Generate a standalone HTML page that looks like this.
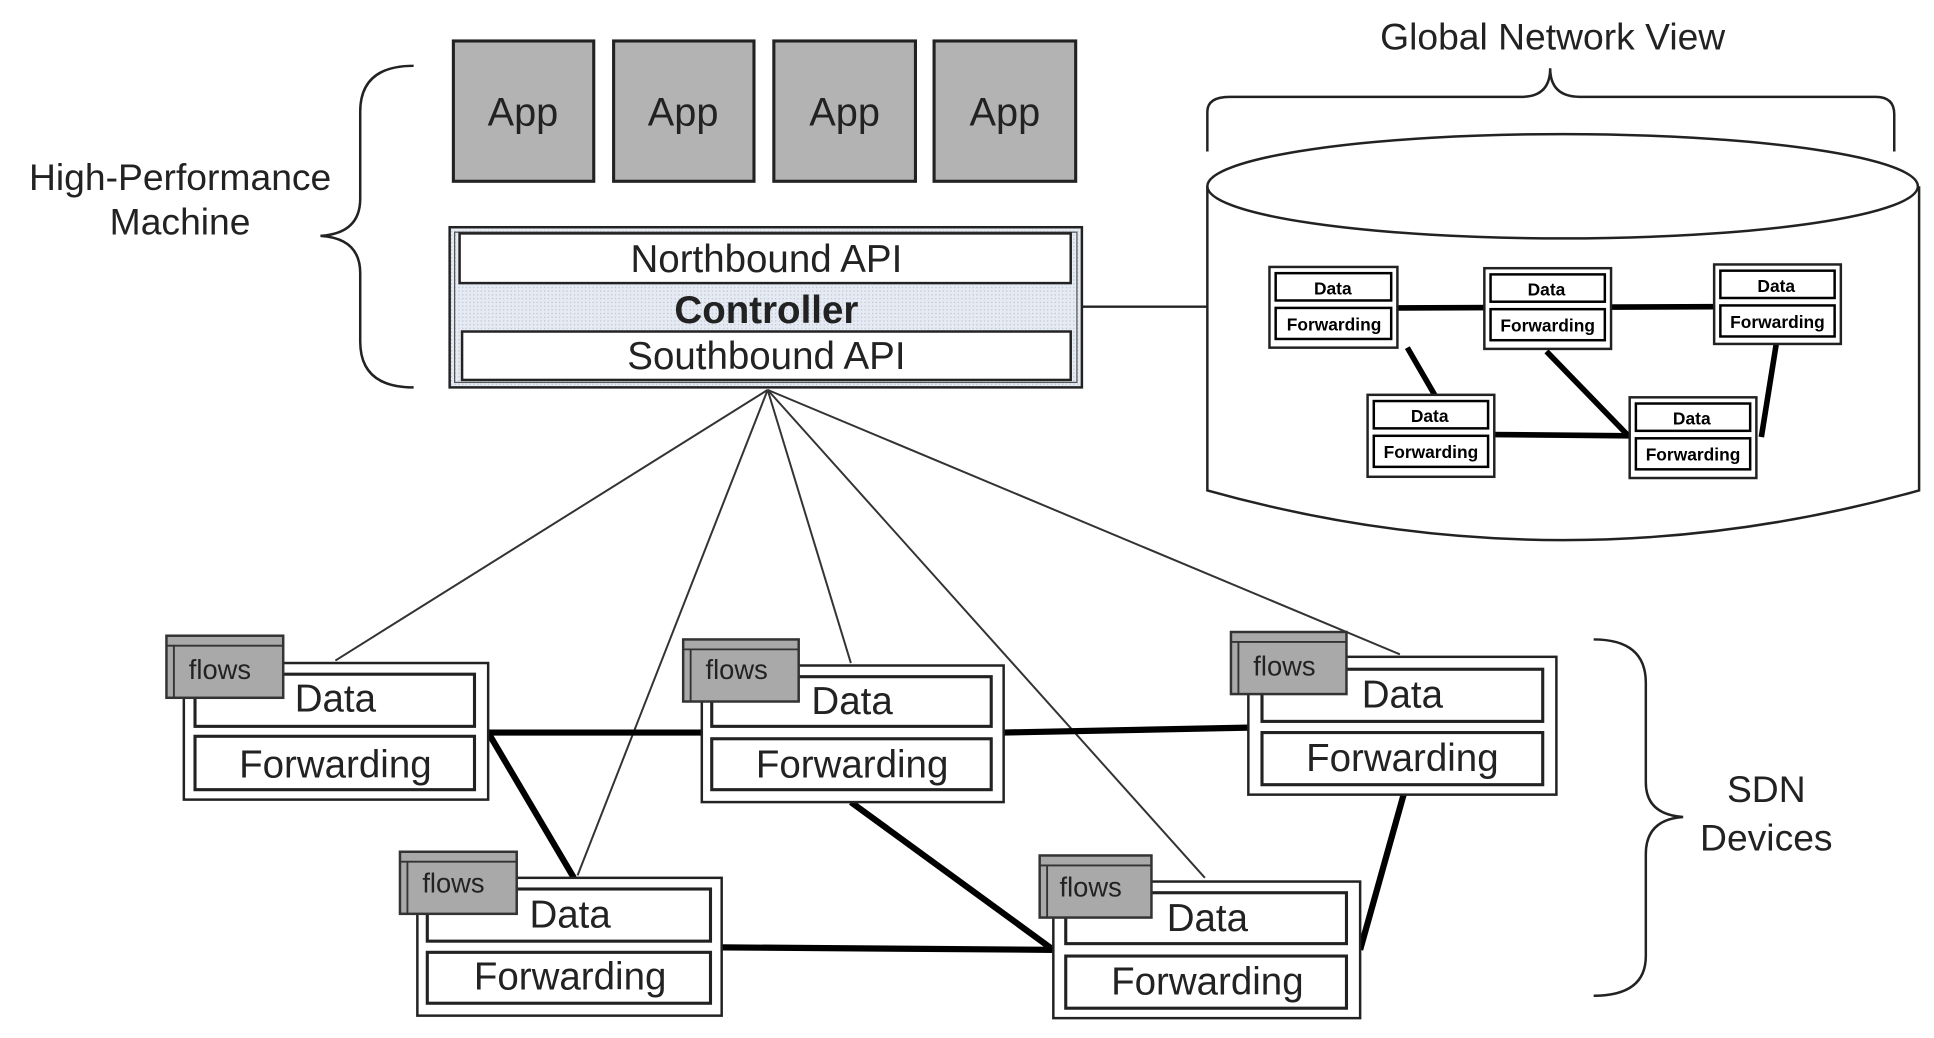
<!DOCTYPE html>
<html><head><meta charset="utf-8"><style>html,body{margin:0;padding:0;background:#fff}svg{display:block}</style></head>
<body>
<svg width="1934" height="1038" viewBox="0 0 1557 836" preserveAspectRatio="none" xmlns="http://www.w3.org/2000/svg" font-family="Liberation Sans, sans-serif">
<defs>
<pattern id="dots" width="3" height="3" patternUnits="userSpaceOnUse"><rect width="3" height="3" fill="#e6ebf3"/><rect width="1" height="1" fill="#b9c3d3"/></pattern>
</defs>
<rect width="1557" height="836" fill="#fff"/>
<!-- Apps -->
<g fill="#b3b3b3" stroke="#222" stroke-width="2.5">
<rect x="365" y="33" width="113" height="113"/><rect x="494" y="33" width="113" height="113"/>
<rect x="623" y="33" width="114" height="113"/><rect x="752" y="33" width="114" height="113"/>
</g>
<g font-size="32" text-anchor="middle" fill="#222">
<text x="421" y="101">App</text><text x="550" y="101">App</text><text x="680" y="101">App</text><text x="809" y="101">App</text>
</g>
<!-- Controller -->
<rect x="362" y="183" width="509" height="129" fill="url(#dots)" stroke="#222" stroke-width="2"/>
<rect x="366" y="187" width="501" height="121" fill="none" stroke="#555" stroke-width="1"/>
<rect x="370" y="188" width="492" height="40" fill="#fff" stroke="#222" stroke-width="2"/>
<rect x="372" y="267" width="490" height="39" fill="#fff" stroke="#222" stroke-width="2"/>
<g font-size="31" text-anchor="middle" fill="#222">
<text x="617" y="219">Northbound API</text>
<text x="617" y="260" font-weight="bold">Controller</text>
<text x="617" y="297">Southbound API</text>
</g>
<!-- left brace -->
<path d="M333,53 Q290,53 290,90 L290,160 Q290,188 258,190 Q290,192 290,220 L290,275 Q290,312 333,312" fill="none" stroke="#222" stroke-width="2"/>
<g font-size="30" text-anchor="middle" fill="#222"><text x="145" y="153">High-Performance</text><text x="145" y="189">Machine</text></g>
<!-- link to cylinder -->
<line x1="871" y1="247" x2="972" y2="247" stroke="#222" stroke-width="2"/>
<!-- Cylinder -->
<path d="M972,150 L972,395 Q1258,475 1545,395 L1545,150" fill="#fff" stroke="#222" stroke-width="2"/>
<ellipse cx="1258" cy="150" rx="286" ry="42" fill="#fff" stroke="#222" stroke-width="2"/>
<path d="M972,122 L972,90 Q972,78 990,78 L1225,78 Q1248,78 1248,55 Q1248,78 1272,78 L1510,78 Q1525,78 1525,92 L1525,122" fill="none" stroke="#222" stroke-width="2"/>
<text x="1250" y="40" font-size="30" text-anchor="middle" fill="#222">Global Network View</text>
<!-- small network links -->
<g stroke="#000" stroke-width="4.5" fill="none">
<line x1="1125" y1="248" x2="1380" y2="247"/>
<line x1="1133" y1="280" x2="1155" y2="318"/>
<line x1="1245" y1="283" x2="1310" y2="350"/>
<line x1="1203" y1="350" x2="1312" y2="351"/>
<line x1="1430" y1="277" x2="1418" y2="352"/>
</g>
<g font-size="14" font-weight="bold" text-anchor="middle" fill="#000">
<g transform="translate(1022,215)"><rect width="103" height="65" fill="#fff" stroke="#222" stroke-width="2"/><rect x="5" y="5" width="93" height="22" fill="#fff" stroke="#000" stroke-width="2"/><rect x="5" y="33" width="93" height="25" fill="#fff" stroke="#000" stroke-width="2"/><text x="51" y="22">Data</text><text x="52" y="51">Forwarding</text></g>
<g transform="translate(1195,216)"><rect width="102" height="65" fill="#fff" stroke="#222" stroke-width="2"/><rect x="5" y="5" width="92" height="22" fill="#fff" stroke="#000" stroke-width="2"/><rect x="5" y="33" width="92" height="25" fill="#fff" stroke="#000" stroke-width="2"/><text x="50" y="22">Data</text><text x="51" y="51">Forwarding</text></g>
<g transform="translate(1380,213)"><rect width="102" height="64" fill="#fff" stroke="#222" stroke-width="2"/><rect x="5" y="5" width="92" height="22" fill="#fff" stroke="#000" stroke-width="2"/><rect x="5" y="33" width="92" height="25" fill="#fff" stroke="#000" stroke-width="2"/><text x="50" y="22">Data</text><text x="51" y="51">Forwarding</text></g>
<g transform="translate(1101,318)"><rect width="102" height="66" fill="#fff" stroke="#222" stroke-width="2"/><rect x="5" y="5" width="92" height="22" fill="#fff" stroke="#000" stroke-width="2"/><rect x="5" y="33" width="92" height="25" fill="#fff" stroke="#000" stroke-width="2"/><text x="50" y="22">Data</text><text x="51" y="51">Forwarding</text></g>
<g transform="translate(1312,320)"><rect width="102" height="65" fill="#fff" stroke="#222" stroke-width="2"/><rect x="5" y="5" width="92" height="22" fill="#fff" stroke="#000" stroke-width="2"/><rect x="5" y="33" width="92" height="25" fill="#fff" stroke="#000" stroke-width="2"/><text x="50" y="22">Data</text><text x="51" y="51">Forwarding</text></g>
</g>
<!-- controller fan lines -->
<g stroke="#333" stroke-width="1.6">
<line x1="618" y1="314" x2="270" y2="532"/><line x1="618" y1="314" x2="465" y2="705"/>
<line x1="618" y1="314" x2="685" y2="534"/><line x1="618" y1="314" x2="970" y2="707"/>
<line x1="618" y1="314" x2="1127" y2="527"/>
</g>
<!-- thick links -->
<g stroke="#000" stroke-width="5">
<line x1="393" y1="590" x2="565" y2="590"/><line x1="808" y1="590" x2="1005" y2="586"/>
<line x1="393" y1="590" x2="462" y2="707"/><line x1="685" y1="646" x2="848" y2="765"/>
<line x1="581" y1="763" x2="848" y2="765"/><line x1="1130" y1="640" x2="1095" y2="765"/>
</g>
<!-- devices -->
<g font-size="31" text-anchor="middle" fill="#222">
<g transform="translate(148,534)"><rect width="245" height="110" fill="#fff" stroke="#222" stroke-width="2"/><rect x="9" y="9" width="225" height="42" fill="#fff" stroke="#222" stroke-width="2.5"/><rect x="9" y="59" width="225" height="43" fill="#fff" stroke="#222" stroke-width="2.5"/><text x="122" y="39">Data</text><text x="122" y="92">Forwarding</text></g>
<g transform="translate(565,536)"><rect width="243" height="110" fill="#fff" stroke="#222" stroke-width="2"/><rect x="8" y="9" width="225" height="40" fill="#fff" stroke="#222" stroke-width="2.5"/><rect x="8" y="59" width="225" height="41" fill="#fff" stroke="#222" stroke-width="2.5"/><text x="121" y="39">Data</text><text x="121" y="90">Forwarding</text></g>
<g transform="translate(1005,529)"><rect width="248" height="111" fill="#fff" stroke="#222" stroke-width="2"/><rect x="11" y="10" width="226" height="42" fill="#fff" stroke="#222" stroke-width="2.5"/><rect x="11" y="61" width="226" height="42" fill="#fff" stroke="#222" stroke-width="2.5"/><text x="124" y="41">Data</text><text x="124" y="92">Forwarding</text></g>
<g transform="translate(336,707)"><rect width="245" height="111" fill="#fff" stroke="#222" stroke-width="2"/><rect x="8" y="9" width="228" height="42" fill="#fff" stroke="#222" stroke-width="2.5"/><rect x="8" y="60" width="228" height="41" fill="#fff" stroke="#222" stroke-width="2.5"/><text x="123" y="40">Data</text><text x="123" y="90">Forwarding</text></g>
<g transform="translate(848,710)"><rect width="247" height="110" fill="#fff" stroke="#222" stroke-width="2"/><rect x="10" y="9" width="226" height="41" fill="#fff" stroke="#222" stroke-width="2.5"/><rect x="10" y="60" width="226" height="42" fill="#fff" stroke="#222" stroke-width="2.5"/><text x="124" y="40">Data</text><text x="124" y="91">Forwarding</text></g>
</g>
<!-- flows tabs -->
<g font-size="22" fill="#222">
<g transform="translate(134,512)"><rect width="94" height="50" fill="#a9a9a9" stroke="#333" stroke-width="2"/><line x1="0" y1="8" x2="94" y2="8" stroke="#333" stroke-width="1.5"/><line x1="6" y1="8" x2="6" y2="50" stroke="#333" stroke-width="1.5"/><text x="18" y="35">flows</text></g>
<g transform="translate(550,515)"><rect width="93" height="50" fill="#a9a9a9" stroke="#333" stroke-width="2"/><line x1="0" y1="8" x2="93" y2="8" stroke="#333" stroke-width="1.5"/><line x1="6" y1="8" x2="6" y2="50" stroke="#333" stroke-width="1.5"/><text x="18" y="32">flows</text></g>
<g transform="translate(991,509)"><rect width="93" height="50" fill="#a9a9a9" stroke="#333" stroke-width="2"/><line x1="0" y1="8" x2="93" y2="8" stroke="#333" stroke-width="1.5"/><line x1="6" y1="8" x2="6" y2="50" stroke="#333" stroke-width="1.5"/><text x="18" y="35">flows</text></g>
<g transform="translate(322,686)"><rect width="94" height="50" fill="#a9a9a9" stroke="#333" stroke-width="2"/><line x1="0" y1="8" x2="94" y2="8" stroke="#333" stroke-width="1.5"/><line x1="6" y1="8" x2="6" y2="50" stroke="#333" stroke-width="1.5"/><text x="18" y="33">flows</text></g>
<g transform="translate(837,689)"><rect width="90" height="50" fill="#a9a9a9" stroke="#333" stroke-width="2"/><line x1="0" y1="8" x2="90" y2="8" stroke="#333" stroke-width="1.5"/><line x1="6" y1="8" x2="6" y2="50" stroke="#333" stroke-width="1.5"/><text x="16" y="33">flows</text></g>
</g>
<!-- right brace -->
<path d="M1283,515 Q1325,515 1325,550 L1325,630 Q1325,656 1355,658 Q1325,660 1325,688 L1325,770 Q1325,802 1283,802" fill="none" stroke="#222" stroke-width="2"/>
<g font-size="30" text-anchor="middle" fill="#222"><text x="1422" y="646">SDN</text><text x="1422" y="685">Devices</text></g>
</svg>
</body></html>
